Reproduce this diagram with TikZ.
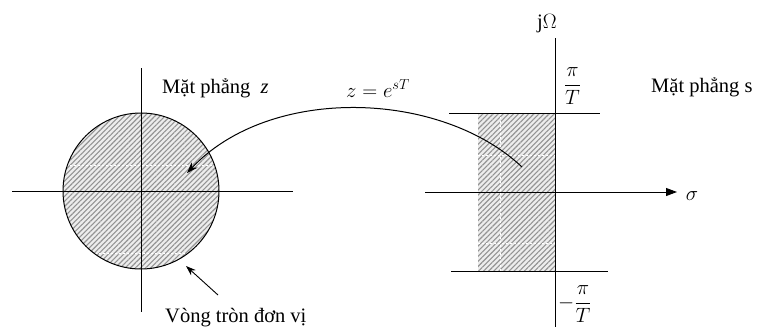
\documentclass[tikz,border=0pt]{standalone}
\usepackage{amsmath}
\usepackage{fontspec}
\setmainfont{Liberation Serif}
\usetikzlibrary{arrows.meta,patterns.meta}
\begin{document}
\begin{tikzpicture}[x=1pt,y=-1pt,
  txt/.style={inner sep=0pt,font=\fontsize{20.5}{23}\selectfont},
  mth/.style={inner sep=0pt,font=\fontsize{21}{24}\selectfont},
  axis/.style={line width=0.9pt},
  hatch/.style={pattern={Lines[angle=45,distance=3.6pt,line width=1.1pt]},pattern color=gray!85},
  artefact/.style={white,line width=0.5pt,dash pattern=on 2pt off 2pt}
]
\useasboundingbox (0,0) rectangle (758,327);
% ---------- z plane ----------
\coordinate (zc) at (141,191);
\fill[gray!14] (zc) circle[radius=78];
\fill[hatch] (zc) circle[radius=78];
\draw[artefact] (66,165) -- (215,165);
\draw[artefact] (75,253) -- (208,253);
\draw[line width=1pt] (zc) circle[radius=78];
\coordinate (zl) at (12,191);
\coordinate (zr) at (293,191);
\coordinate (zt) at (141,68);
\coordinate (zb) at (141,312);
\draw[axis] (zl) -- (zr);
\draw[axis] (zt) -- (zb);
\node[txt,anchor=base west] (zlab) at (162,93) {Mặt phẳng \ \textit{z}};
\node[txt,anchor=base west] (unit) at (165,322) {Vòng tròn đơn vị};
\coordinate (ua) at (218,295);
\coordinate (ub) at (186,266);
\draw[line width=0.9pt,-{Stealth[length=10pt,width=7pt]}] (ua) -- (ub);
% ---------- s plane ----------
\fill[gray!14] (478,113) rectangle (555,271);
\fill[hatch] (478,113) rectangle (555,271);
\draw[artefact] (500,113) -- (500,271);
\draw[artefact] (478,155) -- (555,155);
\draw[artefact] (478,243) -- (555,243);
\coordinate (sl) at (425,192);
\coordinate (sr) at (677,192);
\coordinate (st) at (555,38);
\coordinate (sb) at (555,327);
\draw[axis,-{Triangle[length=11pt,width=8pt]}] (sl) -- (sr);
\draw[axis] (st) -- (sb);
\coordinate (tl1) at (449,113); \coordinate (tl2) at (600,113);
\coordinate (bl1) at (451,271); \coordinate (bl2) at (608,271);
\draw[axis] (tl1) -- (tl2);
\draw[axis] (bl1) -- (bl2);
\node[txt,anchor=base] (jo) at (547,28) {j$\Omega$};
\node[mth,anchor=base] (pt) at (572.5,90.5) {$\dfrac{\pi}{T}$};
\node[mth,anchor=base west] (mpt) at (558,308.5) {$-\dfrac{\pi}{T}$};
\node[mth,anchor=base] (sig) at (692,200) {$\sigma$};
\node[txt,anchor=base west] (slab) at (651,92) {Mặt phẳng s};
% ---------- mapping ----------
\node[mth,anchor=base] (map) at (378,97) {$z=e^{sT}$};
\coordinate (m1) at (522,167);
\coordinate (m2) at (187,173);
\draw[line width=1pt,-{Stealth[length=11pt,width=8pt]}] (m1) .. controls (440,90) and (270,85) .. (m2);
\end{tikzpicture}
\end{document}
